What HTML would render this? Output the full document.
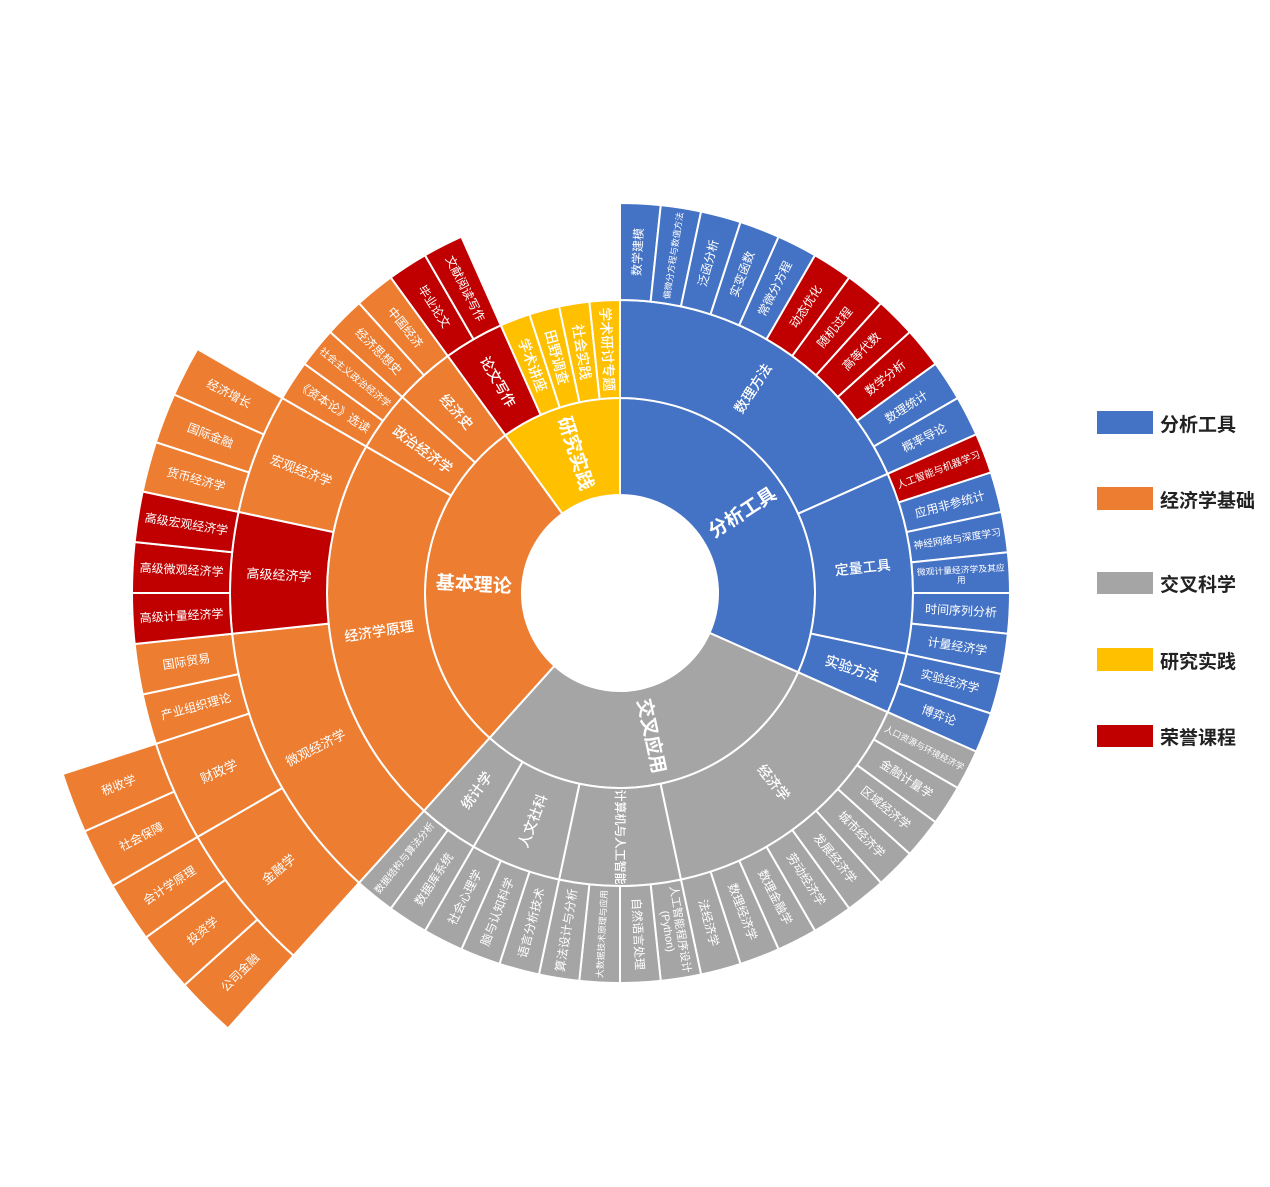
<!DOCTYPE html>
<html><head><meta charset="utf-8">
<style>
html,body{margin:0;padding:0;background:#fff;}
svg{display:block;}
text{font-family:"Liberation Sans","Noto Sans CJK SC",sans-serif;}
</style></head>
<body>
<svg id="s" width="1270" height="1187" viewBox="0 0 1270 1187" xmlns="http://www.w3.org/2000/svg">
<rect x="1097" y="411" width="56" height="23" fill="#4472C4"/>
<text x="1160" y="431" font-size="19" font-weight="bold" fill="#222">分析工具</text>
<rect x="1097" y="487" width="56" height="23" fill="#ED7D31"/>
<text x="1160" y="507" font-size="19" font-weight="bold" fill="#222">经济学基础</text>
<rect x="1097" y="572" width="56" height="22" fill="#A5A5A5"/>
<text x="1160" y="591" font-size="19" font-weight="bold" fill="#222">交叉科学</text>
<rect x="1097" y="648" width="56" height="23" fill="#FFC000"/>
<text x="1160" y="668" font-size="19" font-weight="bold" fill="#222">研究实践</text>
<rect x="1097" y="725" width="56" height="22" fill="#C00000"/>
<text x="1160" y="744" font-size="19" font-weight="bold" fill="#222">荣誉课程</text>
</svg>
<script>
var B='#4472C4',O='#ED7D31',G='#A5A5A5',Y='#FFC000',R='#C00000';
function L(n,c){return {n:n,c:c};}
var tree=[
 {n:'分析工具',c:B,ch:[
  {n:'数理方法',ch:[L('数学建模'),L('偏微分方程与数值方法'),L('泛函分析'),L('实变函数'),L('常微分方程'),L('动态优化',R),L('随机过程',R),L('高等代数',R),L('数学分析',R),L('数理统计'),L('概率导论')]},
  {n:'定量工具',ch:[L('人工智能与机器学习',R),L('应用非参统计'),L('神经网络与深度学习'),L('微观计量经济学及其应|用'),L('时间序列分析'),L('计量经济学')]},
  {n:'实验方法',ch:[L('实验经济学'),L('博弈论')]}]},
 {n:'交叉应用',c:G,ch:[
  {n:'经济学',ch:[L('人口资源与环境经济学'),L('金融计量学'),L('区域经济学'),L('城市经济学'),L('发展经济学'),L('劳动经济学'),L('数理金融学'),L('数理经济学'),L('法经济学')]},
  {n:'计算机与人工智能',ch:[L('人工智能程序设计|(Python)'),L('自然语言处理'),L('大数据技术原理与应用'),L('算法设计与分析')]},
  {n:'人文社科',ch:[L('语言分析技术'),L('脑与认知科学'),L('社会心理学')]},
  {n:'统计学',ch:[L('数据库系统'),L('数据结构与算法分析')]}]},
 {n:'基本理论',c:O,ch:[
  {n:'经济学原理',ch:[
    {n:'微观经济学',ch:[{n:'金融学',ch:[L('公司金融'),L('投资学'),L('会计学原理')]},{n:'财政学',ch:[L('社会保障'),L('税收学')]},L('产业组织理论'),L('国际贸易')]},
    {n:'高级经济学',c:R,ch:[L('高级计量经济学'),L('高级微观经济学'),L('高级宏观经济学')]},
    {n:'宏观经济学',ch:[L('货币经济学'),L('国际金融'),L('经济增长')]}]},
  {n:'政治经济学',ch:[L('《资本论》选读'),L('社会主义政治经济学')]},
  {n:'经济史',ch:[L('经济思想史'),L('中国经济')]}]},
 {n:'研究实践',c:Y,ch:[{n:'论文写作',c:R,ch:[L('毕业论文'),L('文献阅读写作')]},L('学术讲座'),L('田野调查'),L('社会实践'),L('学术研讨专题')]}
];
var RAD=[98,195,293,390,488,586],cx=620,cy=593,STEP=6;
var svg=document.getElementById('s'),NS='http://www.w3.org/2000/svg';
var segs=[],labels=[];
function cnt(n){if(!n.ch)return 1;var s=0;n.ch.forEach(function(c){s+=cnt(c);});return s;}
function pt(r,a){var t=a*Math.PI/180;return [cx+r*Math.sin(t),cy-r*Math.cos(t)];}
function walk(n,d,a0,pc){
 var c=n.c||pc;var span=cnt(n)*STEP;var a1=a0+span;
 var r0=RAD[d],r1=RAD[d+1];
 var p1=pt(r0,a0),p2=pt(r1,a0),p3=pt(r1,a1),p4=pt(r0,a1);var lg=span>180?1:0;
 var dstr='M'+p1+'L'+p2+'A'+r1+','+r1+' 0 '+lg+' 1 '+p3+'L'+p4+'A'+r0+','+r0+' 0 '+lg+' 0 '+p1+'Z';
 segs.push('<path d="'+dstr+'" fill="'+c+'" stroke="#fff" stroke-width="2"/>');
 var am=(a0+a1)/2,rm=(r0+r1)/2,p=pt(rm,am);
 var rot=(am>0&&am<=180)?am-90:am-270;
 var lines=n.n.split('|');var len=Math.max.apply(null,lines.map(function(s){return s.length;}));
 var fs,fw='normal';
 if(d==0){fs=19;fw='bold';}else if(d==1){fs=Math.min(14,95/len);fw='500';}else if(n.ch)fs=13;else fs=Math.min(12,88/len);
 var t='<text transform="translate('+p[0].toFixed(1)+','+p[1].toFixed(1)+') rotate('+rot.toFixed(1)+')" font-size="'+fs.toFixed(1)+'" font-weight="'+fw+'" fill="#fff" text-anchor="middle" dominant-baseline="central">';
 if(lines.length==1)t+=lines[0];
 else lines.forEach(function(s,i){t+='<tspan x="0" y="'+((i-(lines.length-1)/2)*fs*1.15).toFixed(1)+'">'+s+'</tspan>';});
 t+='</text>';labels.push(t);
 if(n.ch){var a=a0;n.ch.forEach(function(ch){walk(ch,d+1,a,c);a+=cnt(ch)*STEP;});}
}
var a=0;tree.forEach(function(n){walk(n,0,a,n.c);a+=cnt(n)*STEP;});
svg.insertAdjacentHTML('afterbegin',segs.join('')+labels.join(''));
</script>
</body></html>
